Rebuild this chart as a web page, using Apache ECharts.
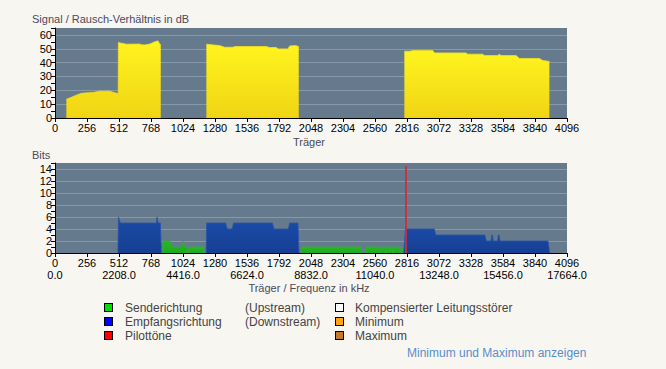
<!DOCTYPE html>
<html><head><meta charset="utf-8">
<script src="https://cdn.jsdelivr.net/npm/echarts@6/dist/echarts.min.js"></script>
<style>
html,body{margin:0;padding:0;background:#f8f6f1;width:666px;height:369px;overflow:hidden;font-family:"Liberation Sans",Arial,sans-serif;}
#chart{position:absolute;left:0;top:0;width:666px;height:369px;}
.lg{position:absolute;font-size:12px;color:#444;line-height:14px;white-space:nowrap;}
.sq{position:absolute;width:7px;height:7px;border:1px solid #000;}
.lnk{position:absolute;font-size:12px;color:#5b8dc9;white-space:nowrap;}
</style></head><body>
<div id="chart"></div>
<div class="sq" style="left:104px;top:303px;background:#00dd00"></div>
<div class="sq" style="left:104px;top:317px;background:#0000ff"></div>
<div class="sq" style="left:104px;top:331px;background:#ff0000"></div>
<div class="lg" style="left:125px;top:301px">Senderichtung</div>
<div class="lg" style="left:125px;top:315px">Empfangsrichtung</div>
<div class="lg" style="left:125px;top:329px">Pilottöne</div>
<div class="lg" style="left:245px;top:301px">(Upstream)</div>
<div class="lg" style="left:245px;top:315px">(Downstream)</div>
<div class="sq" style="left:335px;top:303px;background:#ffffff"></div>
<div class="sq" style="left:335px;top:317px;background:#ffa31a"></div>
<div class="sq" style="left:335px;top:331px;background:#c47a2c"></div>
<div class="lg" style="left:355px;top:301px">Kompensierter Leitungsstörer</div>
<div class="lg" style="left:355px;top:315px">Minimum</div>
<div class="lg" style="left:355px;top:329px">Maximum</div>
<div class="lnk" style="left:407px;top:346px">Minimum und Maximum anzeigen</div>
<script>
// ---- data ----
const carrierTicks = [0,256,512,768,1024,1280,1536,1792,2048,2304,2560,2816,3072,3328,3584,3840,4096];
const freqTicks = [0.0,2208.0,4416.0,6624.0,8832.0,11040.0,13248.0,15456.0,17664.0];

const snrSeg1 = [[91,13.5],[131,14.9],[171,16.5],[211,17.8],[264,18.2],[304,18.4],[358,19.4],[438,19.4],[451,19.0],[478,18.2],[499,17.8],[506,17.6],
                 [507,54.5],[531,54.0],[571,53.3],[678,53.4],[691,52.9],[718,52.8],[758,53.4],[798,55.0],[824,55.7],[838,53.3],[846,53.0]];
const snrSeg2 = [[1211,53.3],[1264,52.8],[1317,52.3],[1357,51.1],[1424,51.1],[1437,51.6],[1690,51.6],[1717,50.9],[1770,50.9],[1784,49.9],[1864,49.9],[1877,52.0],[1920,52.3],[1944,51.8],[1950,51.5]];
const snrSeg3 = [[2795,48.2],[2840,48.2],[2862,48.7],[3022,48.7],[3035,47.0],[3288,47.0],[3302,46.1],[3422,46.1],[3435,45.1],[3542,45.1],[3555,46.1],[3568,45.1],[3688,45.1],[3715,43.0],[3875,43.0],[3902,41.5],[3942,41.0],[3955,40.8]];

const downSeg1 = [[503,0],[508,6],[512,6],[523,5],[811,5],[816,6],[820,6],[826,5],[843,5],[851,0]];
const downSeg2 = [[1209,0],[1213,5],[1365,5],[1378,4],[1416,4],[1429,5],[1739,5],[1752,4],[1867,4],[1877,5],[1944,5],[1952,0]];
const downSeg3 = [[2790,0],[2803,4],[3035,4],[3046,3],[3438,3],[3451,2],[3488,2],[3494,3],[3500,3],[3506,2],[3541,2],[3547,3],[3553,3],[3560,2],[3944,2],[3957,0]];

const upSeg1 = [[862,0],[864,2],[918,2],[936,1],[1019,1],[1026,2],[1030,2],[1036,1],[1051,1],[1056,0]];
const upSeg2 = [[1066,0],[1070,1],[1190,1],[1192,0]];
const upSeg3 = [[1969,0],[1971,1],[2453,1],[2455,0]];
const upSeg4 = [[2483,0],[2485,1],[2592,1],[2596,0]];
const upSeg5 = [[2601,0],[2603,1],[2618,1],[2621,0.5],[2626,1],[2638,1],[2640,0],[2649,0],[2651,1],[2672,1],[2674,0],[2676,0],[2678,1],[2699,1],[2701,0],[2707,0],[2709,1],[2725,1],[2729,0.5],[2735,1],[2757,1],[2759,0],[2769,0],[2771,1],[2779,1],[2781,0]];

const pilotCarrier = [2808];
const pilotHeight = 14.5;

// ---- chart ----
const chart = echarts.init(document.getElementById('chart'), null, {renderer:'svg'});
const plotBg = '#657a8c';
const gridCol = '#8798a8';
const labelFont = {fontFamily:'"Liberation Sans", Arial, sans-serif', fontSize:11, color:'#000'};

function xAxis(gridIndex){
  return {type:'value', gridIndex, min:0, max:4096, interval:256,
    axisLine:{show:true, onZero:false, lineStyle:{color:'#000', width:1}},
    axisTick:{show:true, length:4, lineStyle:{color:'#000'}},
    axisLabel:Object.assign({margin:4, formatter:v => String(Math.round(v))}, labelFont),
    splitLine:{show:false}};
}
function yAxis(gridIndex, max, step, labelEvery){
  const cols = [];
  const n = labelEvery/step;
  for(let i=0;i<n;i++) cols.push(i===0?gridCol:'rgba(0,0,0,0)');
  return {type:'value', gridIndex, min:0, max, interval:step,
    axisLine:{show:true, lineStyle:{color:'#000', width:1}},
    axisTick:{show:true, length:4, lineStyle:{color:'#000'}},
    axisLabel:Object.assign({margin:3, formatter:v => (Math.round(v) % labelEvery === 0 && v < max) ? String(v) : ''}, labelFont),
    splitLine:{show:true, lineStyle:{color:cols, width:1}}};
}

const yellow = new echarts.graphic.LinearGradient(0,0,0,1,[{offset:0,color:'#fff41f'},{offset:1,color:'#f0d414'}]);
const blue = new echarts.graphic.LinearGradient(0,0,0,1,[{offset:0,color:'#1a4aa6'},{offset:1,color:'#163f93'}]);
const green = new echarts.graphic.LinearGradient(0,0,0,1,[{offset:0,color:'#26b826'},{offset:1,color:'#1faa1f'}]);

function area(data, xi, yi, fill, edge){
  return {type:'line', xAxisIndex:xi, yAxisIndex:yi, data, symbol:'none', silent:true,
    lineStyle:{width:0.8, color:edge}, areaStyle:{color:fill, opacity:1}};
}

const series = [
  area(snrSeg1,0,0,yellow,'#f5e020'),
  area(snrSeg2,0,0,yellow,'#f5e020'),
  area(snrSeg3,0,0,yellow,'#f5e020'),
  area(upSeg1,1,1,green,'#26b826'),
  area(upSeg2,1,1,green,'#26b826'),
  area(upSeg3,1,1,green,'#26b826'),
  area(upSeg4,1,1,green,'#26b826'),
  area(upSeg5,1,1,green,'#26b826'),
  area(downSeg1,1,1,blue,'#2a56ad'),
  area(downSeg2,1,1,blue,'#2a56ad'),
  area(downSeg3,1,1,blue,'#2a56ad'),
  {type:'line', xAxisIndex:1, yAxisIndex:1, symbol:'none', silent:true,
    data: pilotCarrier.flatMap(c => [[c,0],[c,pilotHeight]]),
    lineStyle:{width:2, color:'rgba(205,45,60,0.9)'}}
];

const titleStyle = {fontFamily:'"Liberation Sans", Arial, sans-serif', fontSize:11, fill:'#4a4a5c'};

chart.setOption({
  animation:false,
  backgroundColor:'#f8f6f1',
  grid:[
    {left:55, right:99, top:28, bottom:251, show:true, backgroundColor:plotBg, borderWidth:0},
    {left:55, right:99, top:163, bottom:116, show:true, backgroundColor:plotBg, borderWidth:0}
  ],
  xAxis:[
    xAxis(0),
    xAxis(1),
    {type:'value', gridIndex:1, min:0, max:17664, interval:2208, position:'bottom', offset:12,
      axisLine:{show:false}, axisTick:{show:false}, splitLine:{show:false},
      axisLabel:Object.assign({margin:4, formatter:v => v.toFixed(1)}, labelFont)}
  ],
  yAxis:[ yAxis(0,65,5,10), yAxis(1,15,1,2) ],
  series,
  graphic:[
    {type:'text', left:32, top:13, style:Object.assign({text:'Signal / Rausch-Verhältnis in dB'}, titleStyle)},
    {type:'text', left:32, top:149, style:Object.assign({text:'Bits'}, titleStyle)},
    {type:'text', x:309, y:142, style:Object.assign({text:'Träger', align:'center', verticalAlign:'middle'}, titleStyle)},
    {type:'text', x:309, y:288, style:Object.assign({text:'Träger / Frequenz in kHz', align:'center', verticalAlign:'middle'}, titleStyle)}
  ]
});
</script>
</body></html>
